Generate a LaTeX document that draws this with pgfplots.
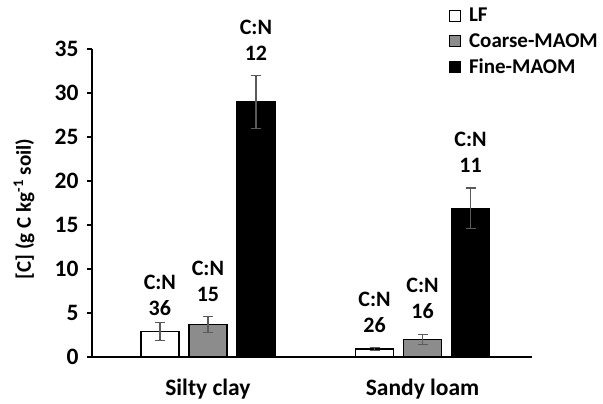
\documentclass[border=0pt]{standalone}
\usepackage{fontspec}
\setmainfont{Carlito}
\usepackage{pgfplots}
\pgfplotsset{compat=1.18}
\usepackage{pgfplotstable}

\definecolor{barGray}{HTML}{8C8C8C}
\definecolor{errGray}{HTML}{5A5A5A}

% group 0 = Silty clay, group 1 = Sandy loam
\pgfplotstableread{
x    lf   lferr  co   coerr  fi    fierr
0    2.9  1.05   3.7  0.9    29.0  3.0
1    0.9  0.15   2.0  0.6    16.9  2.3
}\conc

% C:N ratios, placed above the error bars
\pgfplotstableread{
x        y     lab
-0.2237  2.95  36
0        4.6   15
0.2237   32.0  12
0.7763   1.05  26
1        2.6   16
1.2237   19.2  11
}\cn

\newcommand{\tickfont}{\bfseries\fontsize{23.5}{26}\selectfont}
\newcommand{\cnfont}{\bfseries\fontsize{22}{26}\selectfont}
\newcommand{\legfont}{\bfseries\fontsize{21}{24}\selectfont}
\newcommand{\labfont}{\bfseries\fontsize{21}{24}\selectfont}

\begin{document}
\begin{tikzpicture}
\useasboundingbox (-92pt,-47pt) rectangle (511pt,357pt);
\begin{axis}[
    scale only axis,
    width=440pt, height=308pt,
    xmin=-0.54, xmax=1.51,
    ymin=0, ymax=35,
    ybar, bar width=38pt,
    ytick={0,5,...,35},
    xtick={0,1},
    xticklabels={Silty clay, Sandy loam},
    axis x line*=bottom,
    axis y line*=left,
    axis line style={line width=1.2pt},
    x tick style={draw=none},
    y tick style={line width=1.2pt, black},
    tick align=outside,
    major tick length=5pt,
    /pgf/number format/assume math mode=true,
    tick label style={font=\tickfont},
    xticklabel style={yshift=-13pt},
    yticklabel style={xshift=-5pt},
    every axis y label/.style={at={(axis description cs:0,0.5)}, xshift=-68pt,
        yshift=-6pt, rotate=90, anchor=center, font=\labfont},
    ylabel={[C] (g C kg\textsuperscript{-1} soil)},
    legend style={draw=none, fill=none, font=\legfont, inner sep=0pt,
        nodes={inner sep=0pt},
        at={(axis description cs:1,1)}, anchor=north east,
        xshift=66pt, yshift=41pt, row sep=10pt,
        cells={anchor=west}},
    legend image code/.code={\draw[#1,line width=1.2pt] (0pt,-5.5pt) rectangle (11pt,5.5pt);
        \path (19pt,0pt);},
    error bars/error bar style={color=errGray, line width=1.2pt},
    error bars/error mark options={rotate=90, mark size=5pt, line width=1.2pt, color=errGray},
]
\addplot[bar shift=-48pt, draw=black, line width=1.4pt, fill=white,
    error bars/.cd, y dir=both, y explicit]
    table[x=x, y=lf, y error=lferr] {\conc};
\addlegendentry{LF}
\addplot[bar shift=0pt, draw=black, line width=1.4pt, fill=barGray,
    error bars/.cd, y dir=both, y explicit]
    table[x=x, y=co, y error=coerr] {\conc};
\addlegendentry{Coarse-MAOM}
\addplot[bar shift=48pt, draw=black, line width=1.4pt, fill=black,
    error bars/.cd, y dir=both, y explicit]
    table[x=x, y=fi, y error=fierr] {\conc};
\addlegendentry{Fine-MAOM}
\addplot[bar shift=0pt, draw=none, fill=none, forget plot, point meta=explicit symbolic,
    nodes near coords={C:N\\\pgfplotspointmeta},
    every node near coord/.append style={align=center, anchor=south, inner sep=0pt,
        yshift=15pt, font=\cnfont}]
    table[x=x, y=y, meta=lab] {\cn};
\end{axis}
\end{tikzpicture}
\end{document}
